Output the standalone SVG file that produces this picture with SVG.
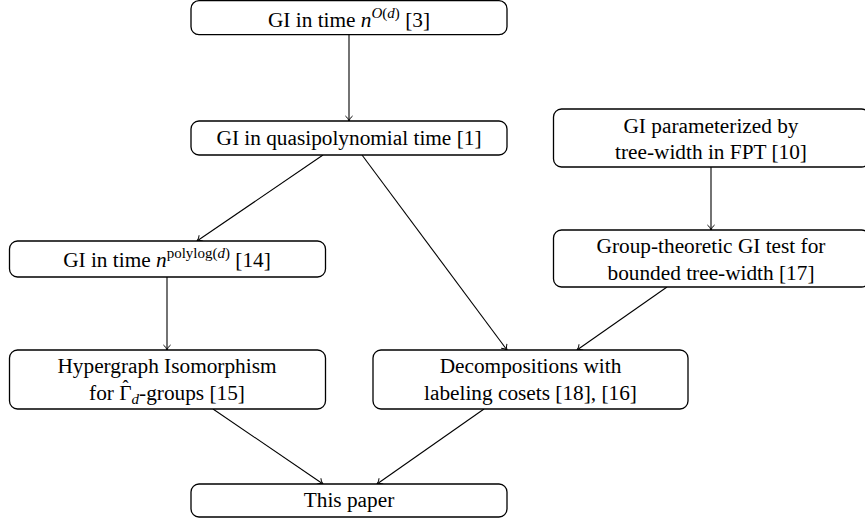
<svg xmlns="http://www.w3.org/2000/svg" width="865" height="525" viewBox="0 0 865 525">
<style>
.box{fill:#fff;stroke:#000;stroke-width:1.3}
.t{font-size:21.3px;fill:#000;text-anchor:middle}
.i{font-style:italic}
.s{font-size:15px}
.e{stroke:#000;stroke-width:1.1;fill:none;marker-end:url(#ar)}
</style>
<defs>
<marker id="ar" markerUnits="userSpaceOnUse" markerWidth="10" markerHeight="10" refX="0" refY="0" orient="auto" overflow="visible">
<path d="M-5,-3.6 C-3.6,-1.6 -1.4,-0.5 0,0 C-1.4,0.5 -3.6,1.6 -5,3.6" fill="none" stroke="#000" stroke-width="1"/>
</marker>
</defs>
<g id="connectors">
<line class="e" x1="349" y1="35" x2="349" y2="121"/>
<line class="e" x1="323" y1="155" x2="197" y2="241"/>
<line class="e" x1="362" y1="155" x2="507" y2="350"/>
<line class="e" x1="167" y1="277" x2="167" y2="350"/>
<line class="e" x1="711" y1="167" x2="711" y2="230"/>
<line class="e" x1="667" y1="287" x2="577" y2="350"/>
<line class="e" x1="213" y1="409" x2="323" y2="484"/>
<line class="e" x1="484" y1="409" x2="377" y2="484"/>
</g>
<g font-family="Liberation Serif, Times New Roman, serif">
<g id="n1">
<rect class="box" x="191" y="0.7" width="316" height="34" rx="8"/>
<text class="t" x="349" y="27">GI in time <tspan class="i">n</tspan><tspan class="s" dy="-9"><tspan class="i">O</tspan>(<tspan class="i">d</tspan>)</tspan><tspan dy="9"> [3]</tspan></text>
</g>
<g id="n2">
<rect class="box" x="191" y="121" width="316" height="34" rx="8"/>
<text class="t" x="349" y="145">GI in quasipolynomial time [1]</text>
</g>
<g id="n3">
<rect class="box" x="9.5" y="241" width="316" height="36" rx="8"/>
<text class="t" x="167" y="267">GI in time <tspan class="i">n</tspan><tspan class="s" dy="-9">polylog(<tspan class="i">d</tspan>)</tspan><tspan dy="9"> [14]</tspan></text>
</g>
<g id="n4">
<rect class="box" x="9.5" y="350" width="316" height="59" rx="8"/>
<text class="t" x="167" y="372.5">Hypergraph Isomorphism</text>
<text class="t" x="167" y="399.5">for Γ<tspan font-size="18" dx="-9.15" dy="-6.3">ˆ</tspan><tspan class="s i" dx="3.15" dy="10.3">d</tspan><tspan dy="-4">-groups [15]</tspan></text>
</g>
<g id="n5">
<rect class="box" x="373" y="350" width="315" height="59" rx="8"/>
<text class="t" x="530.5" y="373">Decompositions with</text>
<text class="t" x="530.5" y="399.5">labeling cosets [18], [16]</text>
</g>
<g id="n6">
<rect class="box" x="553.5" y="109" width="316" height="58" rx="8"/>
<text class="t" x="711" y="132.5">GI parameterized by</text>
<text class="t" x="711" y="159">tree-width in FPT [10]</text>
</g>
<g id="n7">
<rect class="box" x="553.5" y="230" width="316" height="57" rx="8"/>
<text class="t" x="711" y="253">Group-theoretic GI test for</text>
<text class="t" x="711" y="279.5">bounded tree-width [17]</text>
</g>
<g id="n8">
<rect class="box" x="191" y="484" width="316" height="33" rx="8"/>
<text class="t" x="349" y="507">This paper</text>
</g>
</g>
</svg>
